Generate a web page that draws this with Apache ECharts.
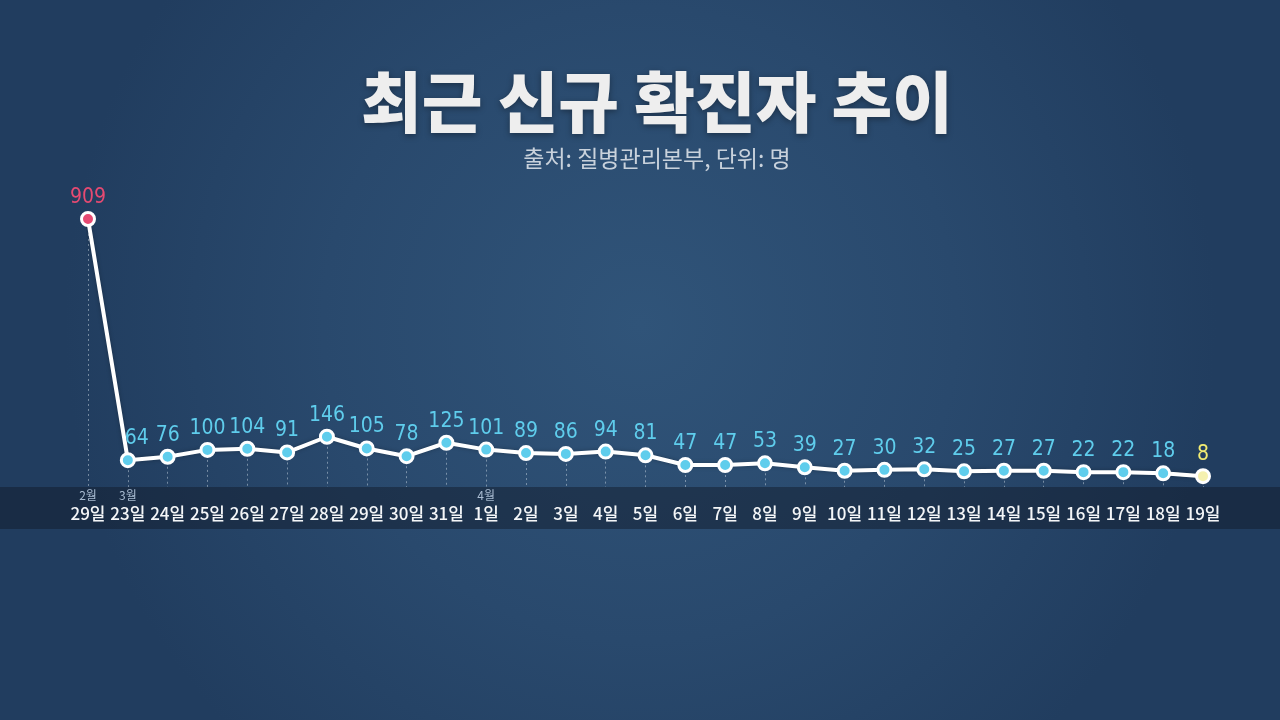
<!DOCTYPE html>
<html>
<head>
<meta charset="utf-8">
<script src="https://cdn.jsdelivr.net/npm/echarts@6/dist/echarts.min.js"></script>
<style>
	html, body { margin: 0; padding: 0; }
	#chart { width: 1280px; height: 720px; }
</style>
</head>
<body>
<div id="chart"></div>
<script>
// 날짜 (일) / 월 표시
var days = ['29일','23일','24일','25일','26일','27일','28일','29일','30일','31일',
	'1일','2일','3일','4일','5일','6일','7일','8일','9일','10일',
	'11일','12일','13일','14일','15일','16일','17일','18일','19일'];
var months = ['2월','3월','','','','','','','','',
	'4월','','','','','','','','','',
	'','','','','','','','',''];
// 신규 확진자 수
var values = [909,64,76,100,104,91,146,105,78,125,
	101,89,86,94,81,47,47,53,39,27,
	30,32,25,27,27,22,22,18,8];

var cyan = '#5fcdec',
	pink = '#e64a72',
	yellow = '#f2ec72';

var last = values.length - 1;

var lineData = values.map(function(v, i){
	var item = {value: v};
	if(i == 0){
		item.itemStyle = {color: pink};
		item.label = {color: pink};
	}else if(i == 1){
		// 급락 구간 옆 라벨은 살짝 오른쪽으로
		item.label = {offset: [9, 0]};
	}else if(i == last){
		item.itemStyle = {color: '#f5f1b0'};
		item.label = {color: yellow};
	}
	return item;
});
// 마지막 구간(노란 선)
var tailData = values.map(function(v, i){
	return i >= last - 1 ? v : null;
});
// 점에서 축까지 점선
var dropLines = values.map(function(v, i){
	return [{coord: [i, v]}, {coord: [i, -30]}];
});

var chart = echarts.init(document.getElementById('chart'));
var option = {
	backgroundColor: {
		type: 'radial', x: 0.5, y: 0.45, r: 0.8,
		colorStops: [
			{offset: 0, color: '#305479'},
			{offset: 0.55, color: '#29496d'},
			{offset: 1, color: '#213d5f'}
		]
	},
	title: {
		text: '최근 신규 확진자 추이',
		subtext: '출처: 질병관리본부, 단위: 명',
		left: 652,
		textAlign: 'center',
		top: 62,
		itemGap: 8,
		textStyle: {
			fontFamily: 'Noto Sans CJK KR',
			fontSize: 66,
			fontWeight: 900,
			lineHeight: 70,
			color: '#eeeeee',
			textShadowColor: 'rgba(0,0,0,0.35)',
			textShadowBlur: 6,
			textShadowOffsetY: 2
		},
		subtextStyle: {
			fontFamily: 'Noto Sans CJK KR',
			fontSize: 23,
			lineHeight: 26,
			color: '#c9d2dc'
		}
	},
	graphic: [{
		type: 'rect',
		silent: true,
		z: 0,
		shape: {x: 0, y: 487, width: 1280, height: 42},
		style: {fill: 'rgba(18,28,44,0.5)'}
	}],
	grid: {left: 88, right: 77, top: 193, bottom: 233},
	xAxis: [{
		type: 'category',
		data: days,
		boundaryGap: false,
		position: 'bottom',
		axisLine: {show: false},
		axisTick: {show: false},
		axisLabel: {
			interval: 0,
			margin: 18,
			fontFamily: 'Noto Sans CJK KR',
			fontSize: 17,
			fontWeight: 500,
			color: '#f4f6f8'
		}
	}, {
		type: 'category',
		data: months,
		boundaryGap: false,
		position: 'bottom',
		offset: 0,
		axisLine: {show: false},
		axisTick: {show: false},
		axisLabel: {
			interval: 0,
			margin: 2,
			fontFamily: 'Noto Sans CJK KR',
			fontSize: 12,
			color: '#a9bcd2'
		}
	}],
	yAxis: {
		type: 'value',
		min: -30,
		max: 1000,
		show: false,
		splitLine: {show: false}
	},
	series: [{
		type: 'line',
		data: tailData,
		z: 3,
		symbol: 'none',
		lineStyle: {color: yellow, width: 3},
		silent: true
	}, {
		type: 'line',
		data: lineData,
		z: 4,
		symbol: 'circle',
		symbolSize: 13,
		itemStyle: {color: cyan, borderColor: '#ffffff', borderWidth: 3},
		lineStyle: {
			color: '#ffffff',
			width: 4,
			shadowColor: 'rgba(0,0,0,0.25)',
			shadowBlur: 4
		},
		label: {
			show: true,
			position: 'top',
			distance: 3,
			fontFamily: 'DejaVu Sans Condensed',
			fontWeight: 'condensed',
			fontSize: 21,
			color: cyan
		},
		markLine: {
			silent: true,
			symbol: 'none',
			z: 1,
			label: {show: false},
			lineStyle: {color: 'rgba(220,230,240,0.45)', type: [2, 3], width: 1},
			data: dropLines
		}
	}]
};
chart.setOption(option);
</script>
</body>
</html>
